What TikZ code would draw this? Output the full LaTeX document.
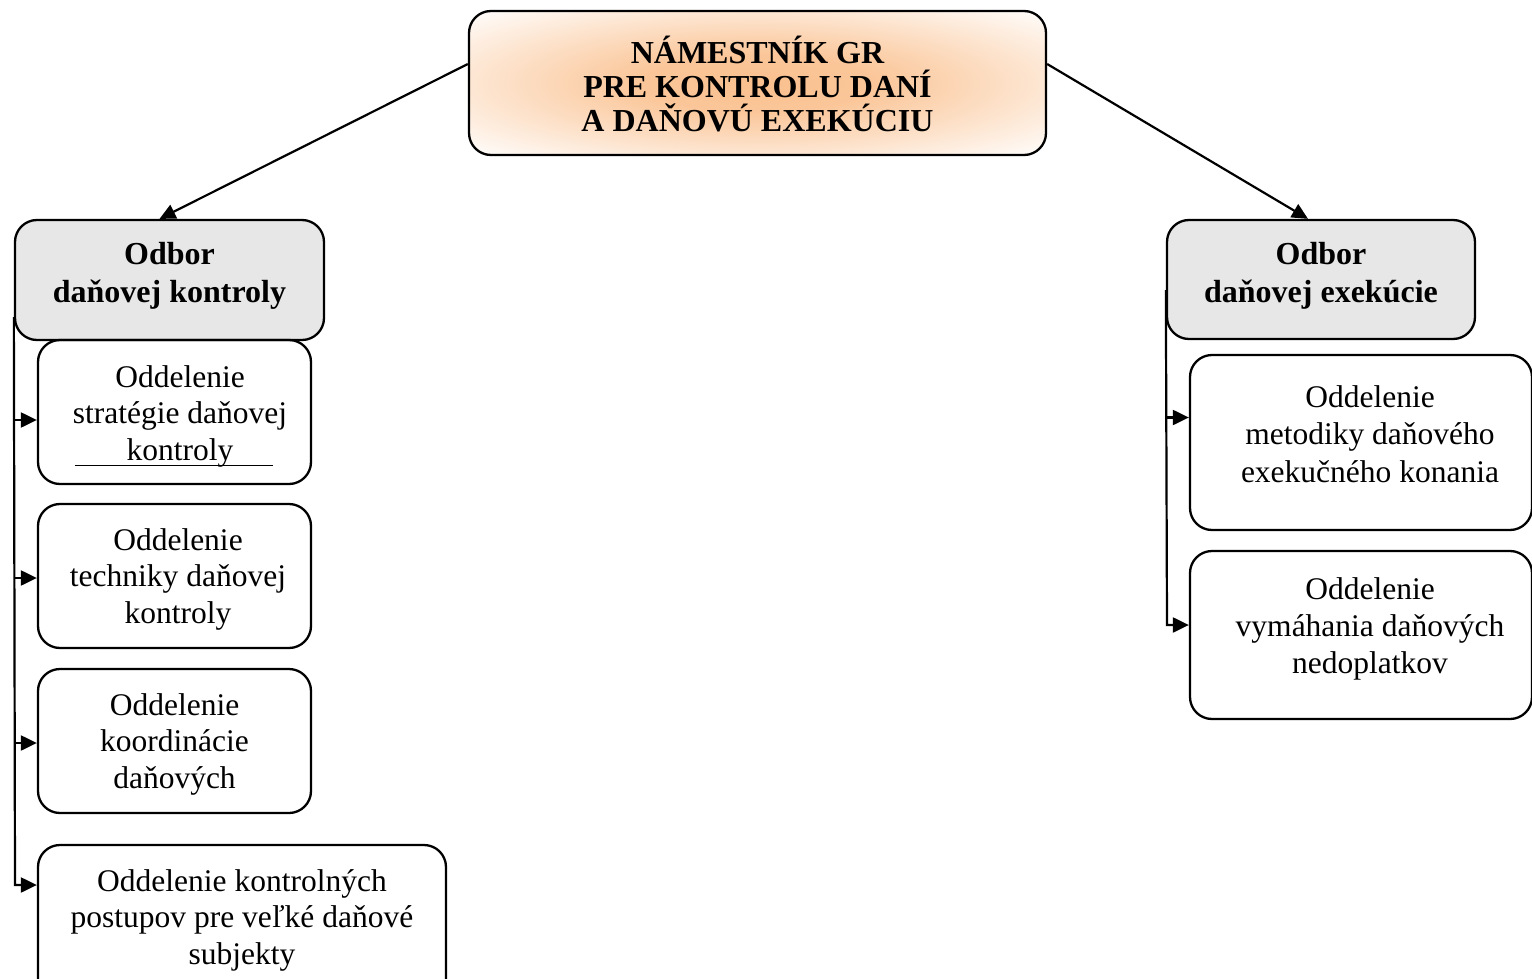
\documentclass[tikz,border=0pt]{standalone}
\usepackage{fontspec}
\setmainfont{Liberation Serif}
\usetikzlibrary{arrows.meta}
\definecolor{peach}{RGB}{250,192,142}
\definecolor{boxgray}{RGB}{231,231,231}
\pgfdeclareradialshading{glow}{\pgfpoint{0bp}{0bp}}{color(0bp)=(peach); color(10bp)=(peach!90!white); color(36bp)=(white); color(50bp)=(white)}
\begin{document}
\begin{tikzpicture}[x=1pt,y=-1pt,
  box/.style={draw, line width=2.3pt, rounded corners=22pt, inner sep=0pt},
  graybox/.style={box, fill=boxgray},
  conn/.style={line width=2.2pt, -{Triangle[length=16pt,width=15pt]}},
  btxt/.style={align=center, inner sep=0pt, font=\bfseries\fontsize{32}{37}\selectfont},
  rtxt/.style={align=center, inner sep=0pt, font=\fontsize{31.5}{36.5}\selectfont}]
\useasboundingbox (0,0) rectangle (1532,979);
\clip (0,0) rectangle (1532,979);
% top box
\node[box, shading=glow, minimum width=577pt, minimum height=144pt] (top) at (757.5,83) {};
\node[btxt, font=\bfseries\fontsize{32}{34}\selectfont] (toptxt) at (757.5,84) {NÁMESTNÍK GR\\PRE KONTROLU DANÍ\\A DAŇOVÚ EXEKÚCIU};
% odbor boxes
\node[graybox, minimum width=309pt, minimum height=120pt] (odL) at (169.5,280) {};
\node[btxt, font=\bfseries\fontsize{32}{38}\selectfont] (odLtxt) at (169.5,276) {Odbor\\daňovej kontroly};
\node[graybox, minimum width=308pt, minimum height=119pt] (odR) at (1321,279.5) {};
\node[btxt, font=\bfseries\fontsize{32}{38}\selectfont] (odRtxt) at (1321,276) {Odbor\\daňovej exekúcie};
% left sub boxes
\node[box, minimum width=273pt, minimum height=144pt] (b1) at (174.5,412) {};
\node[rtxt] (b1txt) at (180,416) {Oddelenie\\stratégie daňovej\\kontroly};
\coordinate (ulA) at (75,465);
\coordinate (ulB) at (273,465);
\draw[line width=1pt] (ulA) -- (ulB);
\node[box, minimum width=273pt, minimum height=144pt] (b2) at (174.5,576) {};
\node[rtxt] (b2txt) at (178,579) {Oddelenie\\techniky daňovej\\kontroly};
\node[box, minimum width=273pt, minimum height=144pt] (b3) at (174.5,741) {};
\node[rtxt] (b3txt) at (174.5,744) {Oddelenie\\koordinácie\\daňových};
\node[box, minimum width=408pt, minimum height=170pt] (b4) at (242,930) {};
\node[rtxt] (b4txt) at (242,920) {Oddelenie kontrolných\\postupov pre veľké daňové\\subjekty};
% right sub boxes
\node[box, minimum width=342pt, minimum height=175pt] (r1) at (1361,442.5) {};
\node[rtxt, font=\fontsize{31.5}{37.5}\selectfont] (r1txt) at (1370,434) {Oddelenie\\metodiky daňového\\exekučného konania};
\node[box, minimum width=342pt, minimum height=168pt] (r2) at (1361,635) {};
\node[rtxt, font=\fontsize{31.5}{37}\selectfont] (r2txt) at (1370,629) {Oddelenie\\vymáhania daňových\\nedoplatkov};
% top connectors
\draw[conn] ([yshift=19pt]top.west) -- ([xshift=-10pt]odL.north);
\draw[conn] ([yshift=19pt]top.east) -- ([xshift=-13pt]odR.north);
% left trunk
\coordinate (lbot) at (15,885);
\draw[conn] ([yshift=24pt]odL.south west) -- (lbot) -- (b4.west |- lbot);
\draw[conn] ([yshift=-8pt]b1.west -| lbot) -- ([yshift=-8pt]b1.west);
\draw[conn] ([yshift=-2pt]b2.west -| lbot) -- ([yshift=-2pt]b2.west);
\draw[conn] ([yshift=-2pt]b3.west -| lbot) -- ([yshift=-2pt]b3.west);
% right trunk
\coordinate (rbot) at (1167,625);
\draw[conn] ([yshift=50pt]odR.south west) -- (rbot) -- (r2.west |- rbot);
\draw[conn] ([yshift=25pt]r1.west -| rbot) -- ([yshift=25pt]r1.west);
\end{tikzpicture}
\end{document}
